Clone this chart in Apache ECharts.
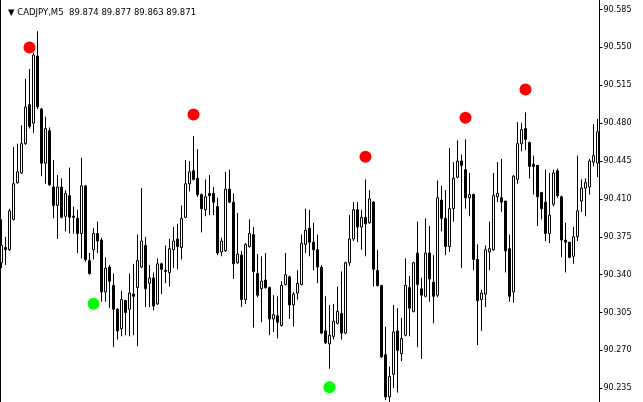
<!DOCTYPE html>
<html>
<head>
<meta charset="utf-8">
<script src="https://cdn.jsdelivr.net/npm/echarts@6/dist/echarts.min.js"></script>
<style>
html,body{margin:0;padding:0;background:#fff;}
#c{width:643px;height:402px;}
</style>
</head>
<body>
<div id="c"></div>
<script>
// ---- data ----
var titleText = '\u25BC CADJPY,M5  89.874 89.877 89.863 89.871';
var yTicks = [90.585, 90.550, 90.515, 90.480, 90.445, 90.410, 90.375, 90.340, 90.305, 90.270, 90.235];

var opens = [
90.351,90.365,90.363,90.391,90.425,90.434,90.461,90.497,90.480,90.542,
90.493,90.443,90.473,90.421,90.404,90.421,90.394,90.413,90.394,90.392,
90.378,90.422,90.353,90.363,90.378,90.372,90.324,90.347,90.330,90.308,
90.290,90.316,90.308,90.322,90.328,90.347,90.367,90.332,90.337,90.313,
90.350,90.344,90.342,90.363,90.373,90.365,90.393,90.424,90.436,90.429,
90.414,90.400,90.415,90.415,90.403,90.361,90.362,90.419,90.407,90.351,
90.358,90.317,90.366,90.377,90.341,90.327,90.335,90.328,90.299,90.302,
90.293,90.331,90.338,90.312,90.323,90.331,90.368,90.383,90.370,90.363,
90.347,90.288,90.276,90.283,90.295,90.304,90.286,90.351,90.373,90.400,
90.384,90.393,90.388,90.407,90.344,90.330,90.266,90.227,90.248,90.288,
90.267,90.284,90.328,90.306,90.360,90.327,90.320,90.360,90.333,90.321,
90.409,90.392,90.366,90.401,90.430,90.445,90.437,90.411,90.414,90.354,
90.317,90.322,90.361,90.363,90.412,90.411,90.408,90.364,90.324,90.428,
90.461,90.475,90.462,90.442,90.441,90.416,90.407,90.378,90.405,90.436,
90.412,90.372,90.370,90.357,90.375,90.408,90.420,90.421,90.444,90.443];
var highs = [
90.391,90.375,90.401,90.458,90.461,90.478,90.521,90.530,90.545,90.565,
90.494,90.486,90.476,90.446,90.432,90.429,90.418,90.439,90.403,90.400,
90.448,90.423,90.360,90.383,90.389,90.374,90.356,90.349,90.341,90.309,
90.325,90.317,90.341,90.350,90.377,90.420,90.375,90.349,90.342,90.355,
90.351,90.367,90.373,90.384,90.387,90.404,90.446,90.445,90.468,90.456,
90.415,90.428,90.432,90.421,90.411,90.374,90.435,90.437,90.415,90.397,
90.362,90.369,90.391,90.384,90.359,90.357,90.360,90.329,90.321,90.320,
90.334,90.360,90.339,90.324,90.344,90.377,90.401,90.400,90.388,90.377,
90.349,90.320,90.312,90.313,90.329,90.343,90.352,90.395,90.407,90.407,
90.400,90.428,90.418,90.408,90.363,90.330,90.292,90.255,90.312,90.309,
90.300,90.355,90.339,90.352,90.389,90.337,90.392,90.385,90.358,90.427,
90.422,90.418,90.457,90.444,90.464,90.451,90.465,90.434,90.415,90.368,
90.326,90.367,90.389,90.434,90.444,90.447,90.408,90.377,90.432,90.481,
90.480,90.490,90.463,90.450,90.441,90.416,90.437,90.434,90.437,90.438,
90.413,90.388,90.370,90.384,90.450,90.428,90.429,90.447,90.479,90.484];
var lows = [
90.346,90.349,90.362,90.390,90.424,90.433,90.460,90.475,90.471,90.493,
90.431,90.424,90.422,90.392,90.373,90.392,90.380,90.378,90.378,90.360,
90.355,90.352,90.340,90.354,90.360,90.315,90.315,90.309,90.273,90.280,
90.283,90.284,90.283,90.284,90.274,90.346,90.310,90.310,90.307,90.312,
90.322,90.332,90.329,90.346,90.345,90.354,90.392,90.417,90.427,90.412,
90.379,90.394,90.395,90.395,90.358,90.357,90.361,90.406,90.336,90.350,
90.310,90.313,90.365,90.291,90.319,90.296,90.327,90.284,90.287,90.281,
90.292,90.330,90.299,90.292,90.317,90.330,90.360,90.357,90.344,90.332,
90.285,90.276,90.253,90.280,90.294,90.280,90.285,90.348,90.371,90.370,
90.363,90.357,90.387,90.329,90.329,90.263,90.224,90.222,90.235,90.231,
90.260,90.283,90.283,90.305,90.273,90.262,90.319,90.315,90.295,90.319,
90.380,90.358,90.361,90.389,90.429,90.346,90.401,90.394,90.344,90.275,
90.288,90.310,90.344,90.362,90.407,90.398,90.342,90.315,90.314,90.424,
90.454,90.455,90.429,90.414,90.385,90.391,90.371,90.369,90.403,90.411,
90.356,90.342,90.355,90.350,90.371,90.398,90.394,90.414,90.440,90.430];
var closes = [
90.367,90.363,90.399,90.424,90.435,90.461,90.495,90.477,90.543,90.495,
90.443,90.475,90.423,90.404,90.421,90.393,90.415,90.393,90.393,90.378,
90.422,90.354,90.341,90.378,90.371,90.324,90.346,90.334,90.308,90.288,
90.317,90.305,90.323,90.320,90.353,90.371,90.327,90.337,90.311,90.350,
90.345,90.343,90.364,90.371,90.366,90.392,90.424,90.435,90.428,90.414,
90.401,90.412,90.413,90.407,90.360,90.371,90.419,90.407,90.350,90.359,
90.317,90.368,90.378,90.343,90.321,90.334,90.328,90.299,90.303,90.296,
90.330,90.340,90.312,90.322,90.332,90.369,90.381,90.370,90.363,90.347,
90.286,90.277,90.284,90.297,90.306,90.286,90.351,90.373,90.400,90.384,
90.393,90.387,90.410,90.345,90.330,90.264,90.227,90.246,90.287,90.270,
90.281,90.330,90.309,90.351,90.331,90.321,90.360,90.336,90.320,90.411,
90.392,90.366,90.401,90.429,90.445,90.441,90.411,90.414,90.354,90.316,
90.323,90.363,90.364,90.413,90.415,90.407,90.362,90.320,90.431,90.461,
90.474,90.465,90.440,90.440,90.412,90.401,90.378,90.395,90.434,90.413,
90.372,90.370,90.356,90.375,90.399,90.420,90.425,90.445,90.450,90.472];

// fractal markers: [bar index, price]
var upFractals = [[7, 90.550], [48, 90.488], [91, 90.449], [116, 90.485], [131, 90.511]];
var downFractals = [[23, 90.313], [82, 90.236]];

// ---- chart ----
var categories = opens.map(function (_, i) { return String(i); });
var candleData = opens.map(function (o, i) { return [o, closes[i], lows[i], highs[i]]; });

var chart = echarts.init(document.getElementById('c'), null, {renderer: 'canvas'});
chart.setOption({
  animation: false,
  backgroundColor: '#ffffff',
  title: {
    text: titleText,
    left: 3, top: 3,
    textStyle: {fontFamily: 'DejaVu Sans', fontSize: 8.5, fontWeight: 'normal', color: '#000'}
  },
  grid: {left: 1.5, right: 45.5, top: 0, bottom: 0},
  xAxis: {
    type: 'category', data: categories, boundaryGap: false,
    axisLine: {show: false}, axisTick: {show: false}, axisLabel: {show: false}, splitLine: {show: false}
  },
  yAxis: {
    type: 'value', position: 'right', offset: 2, min: 90.2223, max: 90.5938, scale: true,
    axisLine: {show: true, lineStyle: {color: '#000', width: 1}},
    axisTick: {show: true, customValues: yTicks, length: 3, inside: false, lineStyle: {color: '#000'}},
    axisLabel: {
      show: true, customValues: yTicks, margin: 4, color: '#000',
      fontFamily: 'DejaVu Sans', fontSize: 8,
      formatter: function (v) { return v.toFixed(3); }
    },
    splitLine: {show: false}
  },
  graphic: [{
    type: 'line', shape: {x1: 0.5, y1: 0, x2: 0.5, y2: 402},
    style: {stroke: '#000', lineWidth: 1}, silent: true
  }],
  series: [{
    type: 'candlestick',
    data: candleData,
    barWidth: 2,
    itemStyle: {color: '#ffffff', color0: '#000000', borderColor: '#000000', borderColor0: '#000000', borderWidth: 1}
  }, {
    type: 'scatter', data: upFractals, symbolSize: 12,
    itemStyle: {color: '#ff0000', opacity: 1}, z: 5
  }, {
    type: 'scatter', data: downFractals, symbolSize: 12,
    itemStyle: {color: '#00ff00', opacity: 1}, z: 5
  }]
});
</script>
</body>
</html>
